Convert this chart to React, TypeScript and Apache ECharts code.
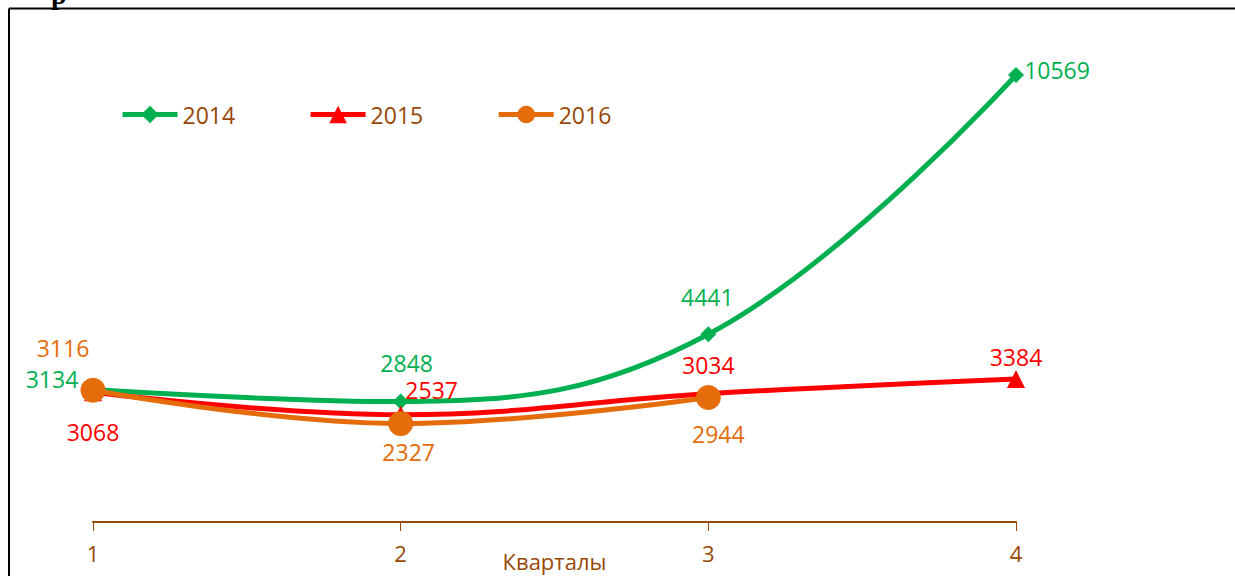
import React, { useEffect, useRef } from "react";
import * as echarts from "echarts";

const categories = ["1", "2", "3", "4"];
const seriesNames = ["2014", "2015", "2016"];
const values2014 = [3134, 2848, 4441, 10569];
const values2015 = [3068, 2537, 3034, 3384];
const values2016 = [3116, 2327, 2944];
const axisName = "Кварталы";

const GREEN = "#00B050";
const RED = "#FF0000";
const ORANGE = "#E46C0A";
const BROWN = "#984807";
const FONT = "'Open Sans', 'Noto Sans', sans-serif";

// label offsets (style only, relative to point centre)
const off2014 = [[-41, -10], [6, -39], [-1, -37], [41, -5]];
const off2015 = [[0, 40], [31, -25], [0, -29], [0, -22]];
const off2016 = [[-30, -42], [8, 28], [10, 37]];

function withLabels(vals: number[], offs: number[][], color: string) {
  return vals.map((v, i) => ({
    value: v,
    label: {
      show: true,
      position: "inside",
      offset: offs[i],
      color,
      fontSize: 23,
      fontFamily: FONT,
      formatter: "{c}",
    },
  }));
}

export default function App() {
  const ref = useRef<HTMLDivElement>(null);
  useEffect(() => {
    const chart = echarts.init(ref.current!, null, { renderer: "svg" });
    chart.setOption({
      animation: false,
      backgroundColor: "#ffffff",
      graphic: [
        {
          type: "line",
          shape: { x1: 9, y1: 8.5, x2: 1235, y2: 8.5 },
          style: { stroke: "#000", lineWidth: 2 },
        },
        {
          type: "line",
          shape: { x1: 9, y1: 8.5, x2: 9, y2: 576 },
          style: { stroke: "#000", lineWidth: 2 },
        },
        {
          type: "text",
          x: 51,
          y: -20,
          style: {
            text: "р",
            font: "bold 28px 'Liberation Serif', serif",
            fill: "#000",
          },
        },
      ],
      legend: {
        left: 115,
        top: 98,
        itemWidth: 55,
        itemHeight: 22,
        itemGap: 73,
        lineStyle: { width: 5 },
        textStyle: { color: BROWN, fontSize: 23, fontFamily: FONT },
        data: seriesNames,
      },
      grid: {
        left: 93,
        right: 219,
        top: 14.5,
        bottom: 54,
        containLabel: false,
        outerBoundsMode: "none",
      },
      xAxis: {
        type: "category",
        data: categories,
        boundaryGap: false,
        axisLine: { lineStyle: { color: BROWN, width: 2 } },
        axisTick: { show: true, length: 9, lineStyle: { color: BROWN, width: 1 }, alignWithLabel: true },
        axisLabel: { color: BROWN, fontSize: 22, fontFamily: FONT, margin: 20 },
        name: axisName,
        nameLocation: "middle",
        nameGap: 28,
        nameMoveOverlap: false,
        nameTextStyle: { color: BROWN, fontSize: 22, fontFamily: FONT },
      },
      yAxis: {
        type: "value",
        min: 0,
        max: 12000,
        show: false,
        splitLine: { show: false },
      },
      series: [
        {
          name: "2014",
          type: "line",
          smooth: 0.4,
          data: withLabels(values2014, off2014, GREEN),
          color: GREEN,
          lineStyle: { color: GREEN, width: 5 },
          symbol: "diamond",
          symbolSize: 16,
          itemStyle: { color: GREEN },
        },
        {
          name: "2015",
          type: "line",
          smooth: 0.4,
          data: withLabels(values2015, off2015, RED),
          color: RED,
          lineStyle: { color: RED, width: 5 },
          symbol: "triangle",
          symbolSize: 18,
          itemStyle: { color: RED },
        },
        {
          name: "2016",
          type: "line",
          smooth: 0.4,
          data: withLabels(values2016, off2016, ORANGE),
          color: ORANGE,
          lineStyle: { color: ORANGE, width: 5 },
          symbol: "circle",
          symbolSize: 25,
          itemStyle: { color: ORANGE },
        },
      ],
    });
    return () => chart.dispose();
  }, []);
  return (
    <div
      ref={ref}
      style={{ position: "absolute", left: 0, top: 0, width: 1235, height: 576 }}
    />
  );
}
